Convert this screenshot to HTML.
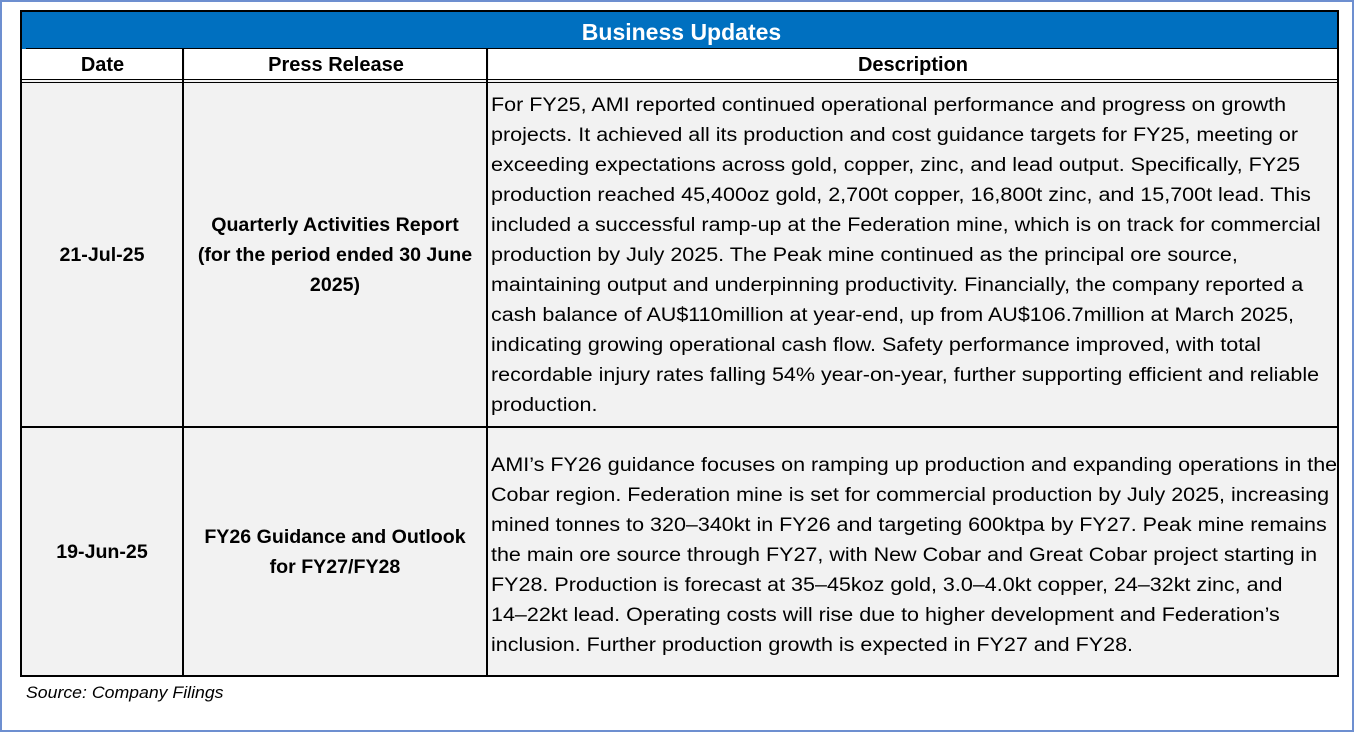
<!DOCTYPE html>
<html><head><meta charset="utf-8"><style>
html,body{margin:0;padding:0;}
body{width:1354px;height:732px;position:relative;background:#fff;font-family:"Liberation Sans",sans-serif;overflow:hidden;}
#frame{position:absolute;left:0;top:0;width:1350px;height:728px;border:2px solid #6d8fd0;}
#tbl{position:absolute;left:20px;top:10px;width:1315px;height:663px;border:2px solid #000;background:#f2f2f2;}
.abs{position:absolute;box-sizing:border-box;}
#title{left:4px;top:0;width:1311px;height:37px;background:#0070c0;color:#fff;font-weight:bold;font-size:23px;text-align:center;line-height:41px;border-bottom:1px solid #000;}
#titlebg{left:0;top:0;width:1315px;height:37px;background:#0070c0;}
.hd{top:37px;height:31px;background:#fff;font-weight:bold;font-size:20px;text-align:center;line-height:33px;color:#000;}
.vl{width:2px;background:#000;}
.hl{height:1px;background:#000;left:0;width:1315px;}
.cell{display:flex;align-items:center;justify-content:center;text-align:center;font-weight:bold;font-size:19.6px;line-height:30px;color:#000;}
.desc{font-size:19px;line-height:30px;white-space:nowrap;color:#000;left:469px;transform:scaleX(1.132);transform-origin:0 0;}
#src{left:26px;top:683px;font-style:italic;font-size:17px;color:#000;transform:scaleX(1.04);transform-origin:0 0;}
</style></head><body>
<div id="frame"></div>
<div id="tbl">
  <div id="titlebg" class="abs"></div>
  <div id="title" class="abs">Business Updates</div>
  <div class="abs hd" style="left:0;width:161px">Date</div>
  <div class="abs hd" style="left:163px;width:302px">Press Release</div>
  <div class="abs hd" style="left:467px;width:848px">Description</div>
  <div class="abs hl" style="top:67px"></div>
  <div class="abs hl" style="top:70px"></div>
  <div class="abs hl" style="top:414px;height:2px"></div>
  <div class="abs vl" style="left:160px;top:37px;height:626px"></div>
  <div class="abs vl" style="left:464px;top:37px;height:626px"></div>

  <div class="abs cell" style="left:0;top:71px;width:160px;height:343px">21-Jul-25</div>
  <div class="abs cell" style="left:162px;top:71px;width:302px;height:343px">Quarterly Activities Report<br>(for the period ended 30 June<br>2025)</div>
  <div class="abs desc" style="top:79px">For FY25, AMI reported continued operational performance and progress on growth<br>projects. It achieved all its production and cost guidance targets for FY25, meeting or<br>exceeding expectations across gold, copper, zinc, and lead output. Specifically, FY25<br>production reached 45,400oz gold, 2,700t copper, 16,800t zinc, and 15,700t lead. This<br>included a successful ramp-up at the Federation mine, which is on track for commercial<br>production by July 2025. The Peak mine continued as the principal ore source,<br>maintaining output and underpinning productivity. Financially, the company reported a<br>cash balance of AU$110million at year-end, up from AU$106.7million at March 2025,<br>indicating growing operational cash flow. Safety performance improved, with total<br>recordable injury rates falling 54% year-on-year, further supporting efficient and reliable<br>production.</div>

  <div class="abs cell" style="left:0;top:416px;width:160px;height:247px">19-Jun-25</div>
  <div class="abs cell" style="left:162px;top:416px;width:302px;height:247px">FY26 Guidance and Outlook<br>for FY27/FY28</div>
  <div class="abs desc" style="top:439px">AMI’s FY26 guidance focuses on ramping up production and expanding operations in the<br>Cobar region. Federation mine is set for commercial production by July 2025, increasing<br>mined tonnes to 320–340kt in FY26 and targeting 600ktpa by FY27. Peak mine remains<br>the main ore source through FY27, with New Cobar and Great Cobar project starting in<br>FY28. Production is forecast at 35–45koz gold, 3.0–4.0kt copper, 24–32kt zinc, and<br>14–22kt lead. Operating costs will rise due to higher development and Federation’s<br>inclusion. Further production growth is expected in FY27 and FY28.</div>
</div>
<div id="src" class="abs">Source: Company Filings</div>
</body></html>
